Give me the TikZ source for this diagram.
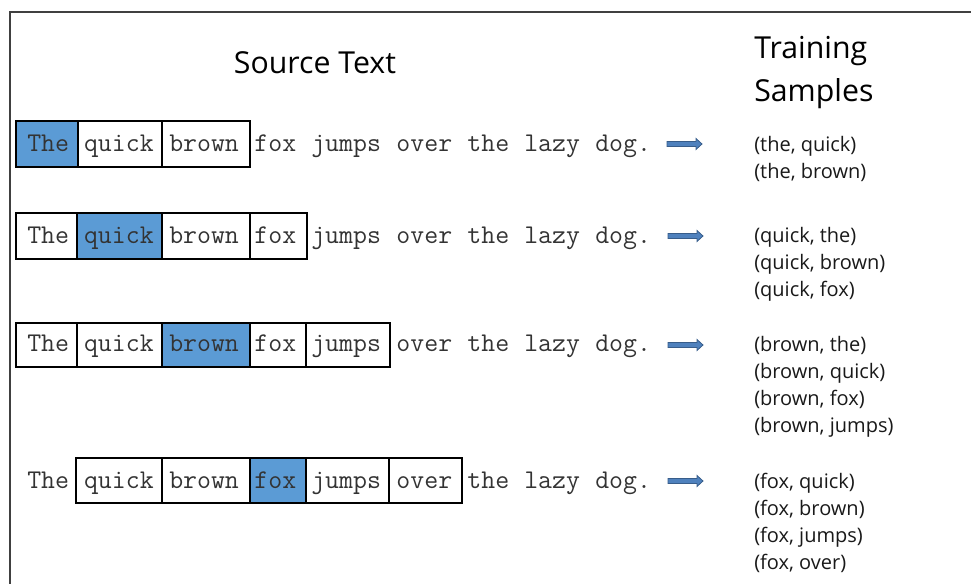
\documentclass[tikz,border=0pt]{standalone}
\usepackage{fontspec}
\setmainfont{Open Sans}
\usetikzlibrary{fit}
\definecolor{hlblue}{HTML}{5B9BD5}
\definecolor{arfill}{HTML}{4F81BD}
\definecolor{ardraw}{HTML}{385D8A}
\definecolor{monogray}{HTML}{333333}
\definecolor{framegray}{HTML}{404040}
\tikzset{
  wbox/.style={draw=black, line width=1.3pt, fill=white, inner sep=0pt, rectangle},
  hbox/.style={wbox, fill=hlblue},
  word/.style={anchor=base west, inner sep=0pt, text=monogray, font=\ttfamily\fontsize{20.29}{22}\selectfont},
  sample/.style={anchor=base west, inner sep=0pt, text=black!90, font=\fontsize{15}{18}\selectfont},
  title/.style={inner sep=0pt, text=black, font=\fontsize{22.7}{28}\selectfont},
  barrow/.pic={\filldraw[fill=arfill, draw=ardraw, line width=0.6pt]
     (0,-2.5) -- (29,-2.5) -- (29,-5.5) -- (35,0) -- (29,5.5) -- (29,2.5) -- (0,2.5) -- cycle;}
}
\newcommand{\wordrow}[2]{%
  \node[word] (#1w0) at (27,#2) {The};
  \node[word] (#1w1) at (27+14.2*4,#2) {quick};
  \node[word] (#1w2) at (27+14.2*10,#2) {brown};
  \node[word] (#1w3) at (27+14.2*16,#2) {fox};
  \node[word] (#1w4) at (27+14.2*20,#2) {jumps};
  \node[word] (#1w5) at (27+14.2*26,#2) {over};
  \node[word] (#1w6) at (27+14.2*31,#2) {the};
  \node[word] (#1w7) at (27+14.2*35,#2) {lazy};
  \node[word] (#1w8) at (27+14.2*40,#2) {dog.};
}
\begin{document}
\begin{tikzpicture}[x=0.75pt,y=-0.75pt]
\useasboundingbox (0,0) rectangle (971,584);
% frame
\coordinate (ftr) at (971,12);
\coordinate (ftl) at (10,12);
\coordinate (fbl) at (10,584);
\draw[framegray, line width=1.5pt] (ftr) -- (ftl) -- (fbl);
% titles
\node[title, anchor=base] (src) at (315,74) {Source Text};
\node[title, anchor=base west] (tr1) at (754,59) {Training};
\node[title, anchor=base west] (tr2) at (754,102) {Samples};
% row 1
\node[hbox, fit={(16,121) (78,167)}] (b11) {};
\node[wbox, fit={(78,121) (162,167)}] (b12) {};
\node[wbox, fit={(162,121) (250,167)}] (b13) {};
\wordrow{r1}{152}
% row 2
\node[wbox, fit={(16,213) (77,259)}] (b21) {};
\node[hbox, fit={(77,213) (162,259)}] (b22) {};
\node[wbox, fit={(162,213) (250,259)}] (b23) {};
\node[wbox, fit={(250,213) (307,259)}] (b24) {};
\wordrow{r2}{243.5}
% row 3
\node[wbox, fit={(16,323) (77,367)}] (b31) {};
\node[wbox, fit={(77,323) (162,367)}] (b32) {};
\node[hbox, fit={(162,323) (250,367)}] (b33) {};
\node[wbox, fit={(250,323) (306,367)}] (b34) {};
\node[wbox, fit={(306,323) (390,367)}] (b35) {};
\wordrow{r3}{352}
% row 4
\node[wbox, fit={(76,458) (162,503)}] (b42) {};
\node[wbox, fit={(162,458) (250,503)}] (b43) {};
\node[hbox, fit={(250,458) (306,503)}] (b44) {};
\node[wbox, fit={(306,458) (389,503)}] (b45) {};
\node[wbox, fit={(389,458) (462,503)}] (b46) {};
\wordrow{r4}{488}
% arrows
\pic at (667,144) {barrow};
\pic at (668,236) {barrow};
\pic at (668,345) {barrow};
\pic at (668,481) {barrow};
% samples
\node[sample] (s11) at (754,152) {(the, quick)};
\node[sample] (s12) at (754,179) {(the, brown)};
\node[sample] (s21) at (754,243) {(quick, the)};
\node[sample] (s22) at (754,270) {(quick, brown)};
\node[sample] (s23) at (754,297) {(quick, fox)};
\node[sample] (s31) at (754,352) {(brown, the)};
\node[sample] (s32) at (754,379) {(brown, quick)};
\node[sample] (s33) at (754,406) {(brown, fox)};
\node[sample] (s34) at (754,433) {(brown, jumps)};
\node[sample] (s41) at (754,488) {(fox, quick)};
\node[sample] (s42) at (754,515) {(fox, brown)};
\node[sample] (s43) at (754,542) {(fox, jumps)};
\node[sample] (s44) at (754,569) {(fox, over)};
\end{tikzpicture}
\end{document}
